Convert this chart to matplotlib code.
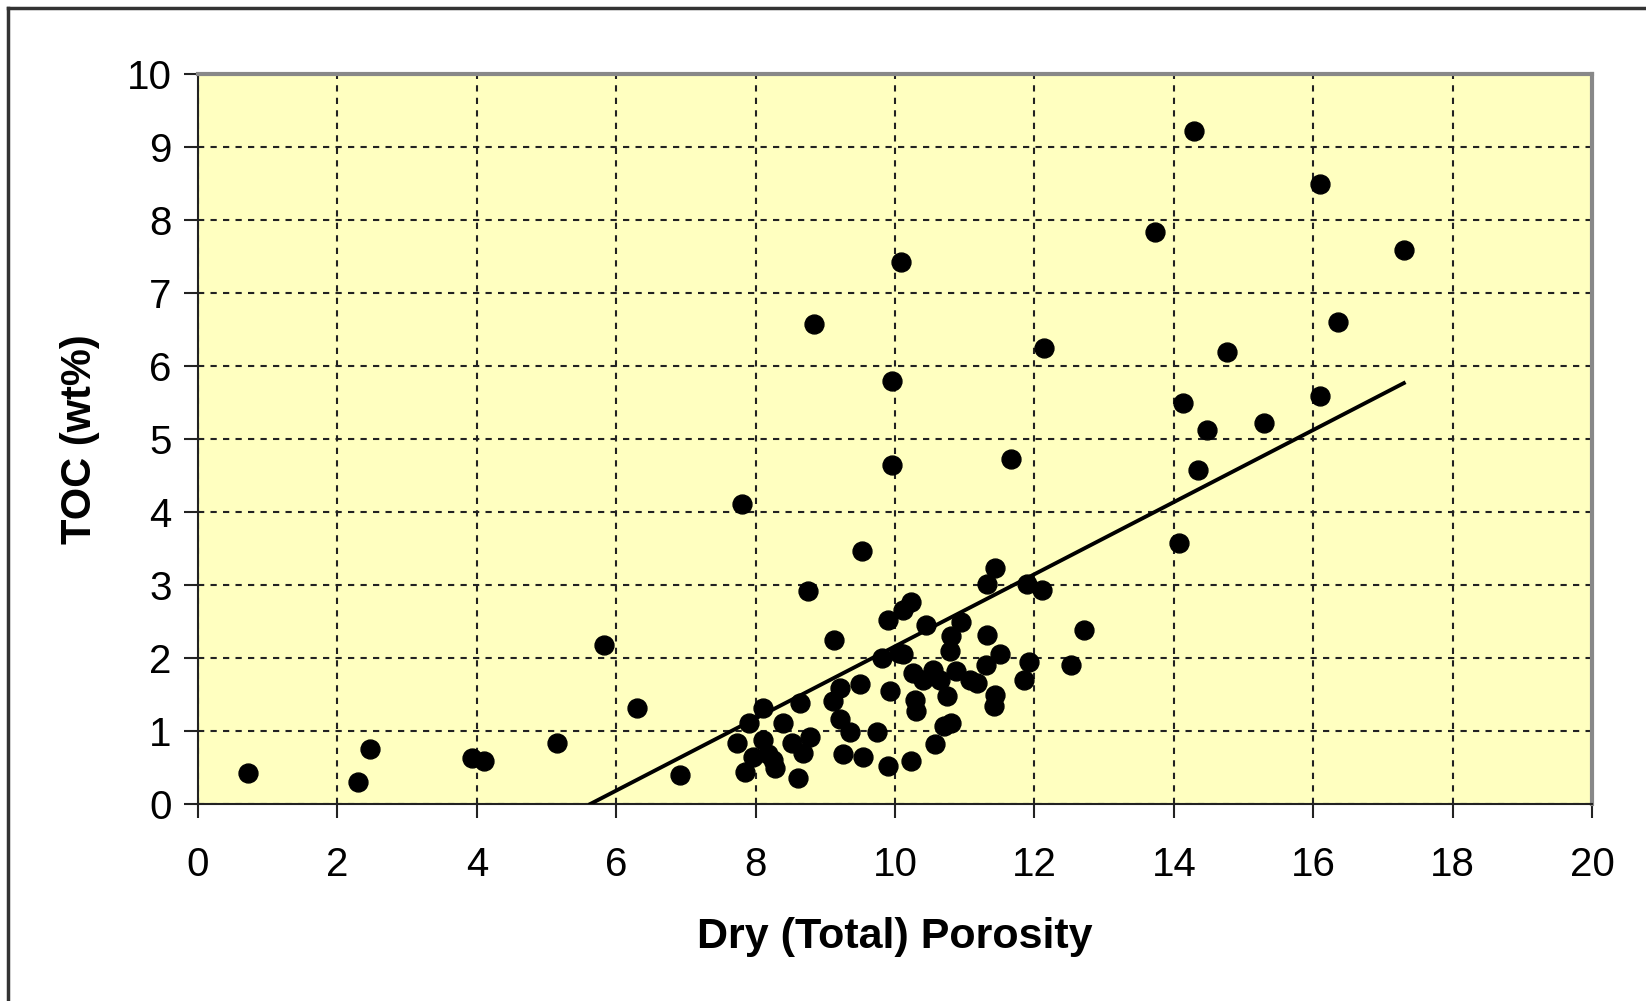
import numpy as np
import matplotlib.pyplot as plt
from matplotlib.lines import Line2D

plt.rcParams['font.family'] = ['Liberation Sans', 'DejaVu Sans']

# Porosity (%) and TOC (wt%) for each sample
porosity = [0.71, 2.30, 2.47, 3.93, 4.11, 5.15, 5.83, 6.30, 6.92, 7.80,
            8.84, 8.75, 9.52, 9.95, 9.95, 10.08, 14.29, 13.73, 16.10, 17.30,
            16.36, 14.76, 12.14, 14.13, 14.47, 15.29, 16.10, 14.34, 14.08, 11.67,
            12.71, 12.53, 12.11, 11.89, 11.44, 11.32, 11.85, 11.92,
            9.90, 9.12, 9.21, 9.50, 9.11, 8.64, 8.11, 7.91, 8.40, 9.21,
            9.35, 9.26, 8.78, 8.68, 8.52, 7.73, 7.96, 8.11, 8.25, 8.28,
            8.18, 7.85, 8.61, 9.54, 9.74, 9.90, 9.93,
            10.23, 10.11, 10.45, 10.95, 10.81, 10.79, 11.32, 10.06, 9.82, 10.11,
            11.30, 11.50, 10.26, 10.54, 10.64, 10.88, 11.07, 11.17, 10.74, 10.40,
            10.28, 10.30, 11.44, 11.42, 10.81, 10.71, 10.57, 10.23]
toc = [0.42, 0.30, 0.75, 0.63, 0.59, 0.83, 2.18, 1.32, 0.40, 4.11,
       6.57, 2.92, 3.46, 5.79, 4.64, 7.43, 9.22, 7.83, 8.49, 7.59,
       6.61, 6.19, 6.25, 5.50, 5.13, 5.22, 5.59, 4.57, 3.58, 4.73,
       2.39, 1.90, 2.93, 3.02, 3.23, 3.02, 1.70, 1.95,
       2.52, 2.24, 1.59, 1.64, 1.41, 1.38, 1.31, 1.11, 1.11, 1.16,
       0.98, 0.68, 0.92, 0.70, 0.83, 0.83, 0.64, 0.88, 0.60, 0.50,
       0.68, 0.44, 0.35, 0.64, 0.98, 0.52, 1.55,
       2.77, 2.66, 2.45, 2.50, 2.30, 2.10, 2.32, 2.07, 2.00, 2.05,
       1.91, 2.05, 1.80, 1.84, 1.70, 1.82, 1.70, 1.66, 1.48, 1.70,
       1.43, 1.27, 1.50, 1.34, 1.11, 1.07, 0.82, 0.59]

# Linear trendline
slope = 0.494
intercept = -2.78
trend_x = np.array([5.63, 17.3])

fig = plt.figure(figsize=(16.46, 10.01), dpi=100)
ax = fig.add_axes([0.1203, 0.1968, 0.8469, 0.7292])
ax.set_facecolor('#ffffc0')

ax.scatter(porosity, toc, s=185, color='black', zorder=3)
ax.plot(trend_x, slope * trend_x + intercept, color='black', linewidth=2.8, zorder=3)

ax.set_xlim(0, 20)
ax.set_ylim(0, 10)
ax.set_xticks(np.arange(0, 21, 2))
ax.set_yticks(np.arange(0, 11, 1))
ax.grid(True, color='#222222', linestyle=(0, (3, 3)), linewidth=1.5)
ax.set_axisbelow(True)

for side in ['top', 'right']:
    ax.spines[side].set_color('#888888')
    ax.spines[side].set_linewidth(3)
for side in ['left', 'bottom']:
    ax.spines[side].set_color('#222222')
    ax.spines[side].set_linewidth(1.5)

ax.tick_params(direction='out', length=10, width=1.5, color='#222222', labelsize=29)
ax.tick_params(axis='x', pad=20)
ax.tick_params(axis='y', pad=9)

ax.set_xlabel('Dry (Total) Porosity', fontsize=31, fontweight='bold', labelpad=24)
ax.set_ylabel('TOC (wt%)', fontsize=30, fontweight='bold', labelpad=19)

# Chart frame, left and top edges
fig.add_artist(Line2D([0.005, 0.005], [0, 0.992], color='#333333', linewidth=2.5))
fig.add_artist(Line2D([0.005, 1], [0.992, 0.992], color='#333333', linewidth=2.5))

fig.savefig('out.png', dpi=100)
